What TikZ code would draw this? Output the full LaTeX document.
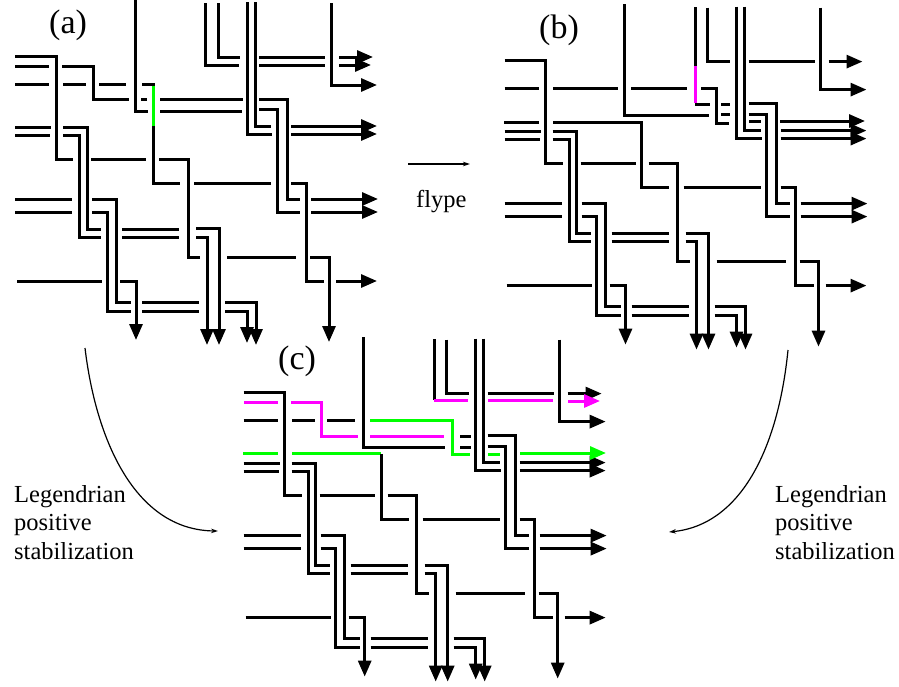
\documentclass[tikz,border=0pt]{standalone}
\usepackage{fontspec}
\setmainfont{Liberation Serif}
\usetikzlibrary{arrows.meta}
\definecolor{mg}{RGB}{255,0,255}
\definecolor{gn}{RGB}{0,255,0}
\tikzset{
  strand/.style={line width=3pt,line join=miter},
  tipped/.style={strand,-{Triangle[length=16pt,width=13pt]}},
  thin curve/.style={line width=1.2pt,-{Stealth[length=7pt,width=4.5pt]}},
  figlabel/.style={anchor=base west,inner sep=0pt,font=\fontsize{34}{36}\selectfont},
  txt/.style={anchor=base west,inner sep=0pt,font=\fontsize{24.5}{28}\selectfont}
}
\newcommand{\commonknot}{%
  % left rows
  \draw[strand] (15,56)--(56,56)--(56,159)--(73,159);
  \draw[strand] (91,159)--(146,159);
  \draw[strand] (159,159)--(188,159)--(188,257)--(200,257);
  \draw[strand] (227,257)--(296,257);
  \draw[strand] (310,257)--(329,257)--(329,325);
  \draw[tipped] (329,320)--(329,342);
  \draw[strand] (15,84)--(49,84);
  \draw[strand] (15,127)--(51,127);
  \draw[strand] (63,127)--(87,127)--(87,229)--(101,229);
  \draw[strand] (15,135)--(50,135);
  \draw[strand] (63,135)--(79.5,135)--(79.5,237)--(101,237);
  \draw[strand] (122,229)--(179,229);
  \draw[strand] (122,237)--(179,237);
  \draw[strand] (196,228.5)--(219,228.5)--(219,320);
  \draw[tipped] (219,320)--(219,345);
  \draw[strand] (196,237)--(207,237)--(207,320);
  \draw[tipped] (207,320)--(207,345);
  \draw[strand] (15,199)--(72,199);
  \draw[strand] (15,212)--(72,212);
  \draw[strand] (92,199)--(116,199)--(116,302)--(131,302);
  \draw[strand] (92,212)--(107,212)--(107,311)--(131,311);
  \draw[strand] (142,302)--(199,302);
  \draw[strand] (142,311)--(199,311);
  \draw[strand] (225,302)--(256,302)--(256,325);
  \draw[tipped] (256,320)--(256,345);
  \draw[strand] (225,311)--(247,311)--(247,325);
  \draw[tipped] (247,320)--(247,343);
  \draw[strand] (17,281)--(102,281);
  \draw[strand] (120,281)--(136,281)--(136,320);
  \draw[tipped] (136,315)--(136,340);
  \draw[strand] (194,183)--(271,183);
  \draw[strand] (291,183)--(306,183)--(306,281)--(324,281);
  \draw[tipped] (336,281)--(377,281);
  % right rows
  \draw[strand] (218,3)--(218,57)--(240,57);
  \draw[strand] (259,57)--(325,57);
  \draw[tipped] (339,57)--(373,57);
  \draw[strand] (247,2)--(247,134)--(272,134);
  \draw[tipped] (291,134)--(377,134);
  \draw[strand] (255,2)--(255,126)--(271,126);
  \draw[tipped] (291,126)--(377,126);
  \draw[strand] (331,3)--(331,85)--(350,85);
  \draw[tipped] (345,85)--(377,85);
  \draw[strand] (259,99)--(287,99)--(287,199)--(300,199);
  \draw[strand] (259,109.5)--(277,109.5)--(277,212)--(300,212);
  \draw[tipped] (311,199)--(378,199);
  \draw[tipped] (311,212)--(378,212);
}
\begin{document}
\begin{tikzpicture}[x=1pt,y=-1pt]
\useasboundingbox (0,0) rectangle (899,686);
% ---------- (a)
\commonknot
\draw[strand] (15,66)--(49,66);
\draw[strand] (62,66)--(93,66)--(93,99)--(129,99);
\draw[strand] (141,99)--(147,99);
\draw[strand] (160,99)--(243,99);
\draw[strand] (63,84)--(86,84);
\draw[strand] (99,84)--(126,84);
\draw[strand] (142,84)--(153,84)--(153,126);
\draw[strand] (153,126)--(153,183)--(180,183);
\draw[strand,gn] (153,85.5)--(153,126);
\draw[strand] (135,0)--(135,111)--(148,111);
\draw[strand] (160,111)--(242,111);
\draw[strand] (205,3)--(205,65)--(239,65);
\draw[strand] (259,65)--(325,65);
\draw[tipped] (339,65)--(371,65);
\node[figlabel] (la) at (49,33) {(a)};
% ---------- (b)
\begin{scope}[shift={(489.5,4.6)}]
\commonknot
\end{scope}
\draw[strand] (553,88)--(618,88);
\draw[strand] (631,88)--(687,88);
\draw[strand] (701,88)--(716,88)--(716,123)--(729,123);
\draw[strand] (504,122)--(539,122);
\draw[strand] (553,122)--(641,122)--(641,187)--(669,187);
\draw[strand] (624,4)--(624,115)--(709,115);
\draw[strand] (721,114)--(730,114);
\draw[strand] (695,7)--(695,66);
\draw[strand] (695,104)--(710,104);
\draw[strand] (721,104)--(730,104);
\draw[strand,mg] (695,66)--(695,103);
\draw[strand] (749,121)--(761,121);
\draw[tipped] (780,121)--(865,121);
\node[figlabel] (lb) at (539,38) {(b)};
% ---------- (c)
\begin{scope}[shift={(228.7,336.6)}]
\commonknot
\end{scope}
\draw[strand] (244,420)--(278,420);
\draw[strand,mg] (244,402)--(278,402);
\draw[strand,mg] (291,402)--(321,402)--(321,436)--(358,436);
\draw[strand,mg] (370,436)--(444,436);
\draw[strand] (460,436)--(471,436);
\draw[strand] (292,420)--(315,420);
\draw[strand] (327,420)--(355,420);
\draw[strand,gn] (370,420)--(452,420)--(452,454)--(470,454);
\draw[strand,gn] (488,454)--(500,454);
\draw[tipped,gn] (520,453)--(606,453);
\draw[strand] (363,337)--(363,447)--(445,447);
\draw[strand] (460,447)--(471,447);
\draw[strand,gn] (243,453)--(278,453);
\draw[strand,gn] (292,453)--(381,453);
\draw[strand] (381,454)--(381,519)--(409,519);
\draw[strand] (434,339)--(434,400);
\draw[strand,mg] (434,400)--(468,400);
\draw[strand,mg] (488,400)--(553,400);
\draw[tipped,mg] (568,401)--(600,401);
\node[figlabel] (lc) at (278,369) {(c)};
% ---------- annotations
\coordinate (fa) at (408,164);
\coordinate (fb) at (470,164);
\draw[thin curve] (fa)--(fb);
\node[txt] (fl) at (416,207) {flype};
\coordinate (ca1) at (85,348);
\coordinate (ca2) at (218,531);
\draw[thin curve] (ca1) .. controls (96,440) and (135,530) .. (ca2);
\coordinate (cb1) at (788,350);
\coordinate (cb2) at (669,532);
\draw[thin curve] (cb1) .. controls (778,450) and (740,525) .. (cb2);
\node[txt] (l1) at (14,502) {Legendrian};
\node[txt] (l2) at (14,530) {positive};
\node[txt] (l3) at (14,559) {stabilization};
\node[txt] (r1) at (775,502) {Legendrian};
\node[txt] (r2) at (775,530) {positive};
\node[txt] (r3) at (775,559) {stabilization};
\end{tikzpicture}
\end{document}
